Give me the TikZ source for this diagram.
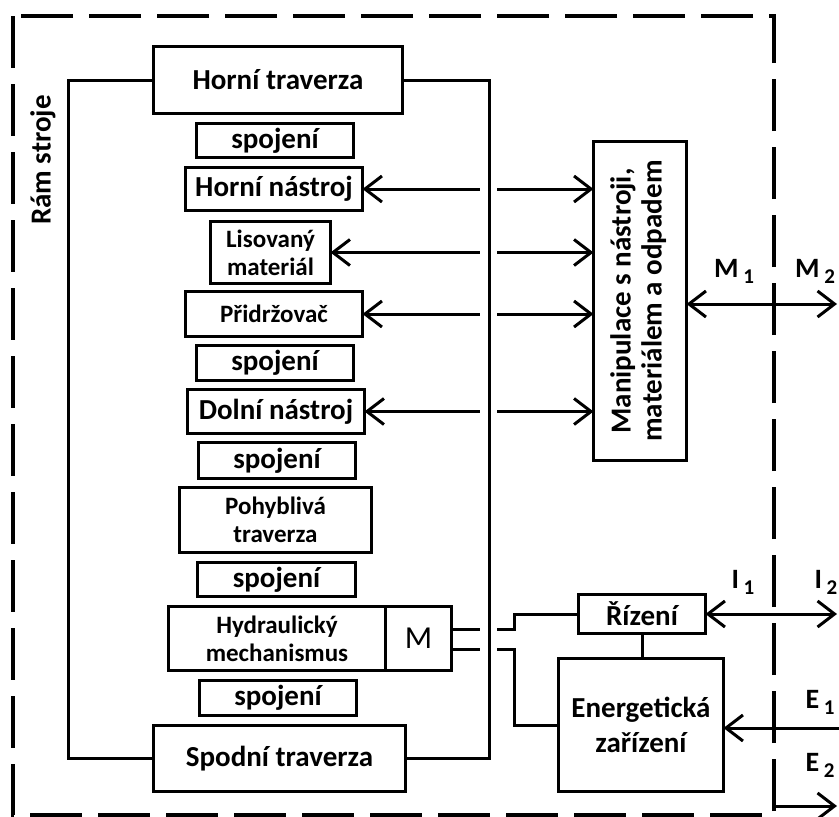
\documentclass[tikz,border=0pt]{standalone}
\usepackage{fontspec}
\setmainfont{Carlito}
\usepackage{graphicx}
\usetikzlibrary{arrows.meta}

\newcommand{\vstup}[2]{#1\,\raisebox{-6pt}{\fontsize{21}{21}\selectfont #2}}

\begin{document}
\begin{tikzpicture}[x=1pt,y=-1pt,line width=3pt,
    >={Straight Barb[length=17pt,width=26pt]},
    blok/.style={draw,line width=3.4pt,inner sep=0pt,outer sep=0pt,align=center,
        font=\bfseries\fontsize{29}{33}\selectfont},
    malyblok/.style={blok,font=\bfseries\fontsize{25}{28}\selectfont},
    popis/.style={inner sep=0pt,font=\bfseries\fontsize{28}{28}\selectfont}]

    \useasboundingbox (0,0) rectangle (839,817);

    % outer boundary of the machine
    \draw[line width=3.5pt,dash pattern=on 52pt off 16pt] (13,16) rectangle (774,815);

    % the column of parts
    \node[blok,minimum width=249pt,minimum height=67pt] (horniTrav) at (278,80) {Horní traverza};
    \node[blok,minimum width=157pt,minimum height=34pt] (spoj1) at (275,140.5) {spojení};
    \node[blok,minimum width=177pt,minimum height=43pt] (horniNas) at (274,189) {Horní nástroj};
    \node[malyblok,minimum width=120pt,minimum height=62pt] (lisMat) at (270.5,252.5) {Lisovaný\\materiál};
    \node[malyblok,minimum width=177pt,minimum height=45pt] (pridr) at (274,314) {Přidržovač};
    \node[blok,minimum width=157pt,minimum height=35pt] (spoj2) at (275,363) {spojení};
    \node[blok,minimum width=177pt,minimum height=44pt] (dolniNas) at (276,411.5) {Dolní nástroj};
    \node[blok,minimum width=157pt,minimum height=36pt] (spoj3) at (277,460.5) {spojení};
    \node[malyblok,minimum width=192pt,minimum height=65pt] (pohTrav) at (275.5,520) {Pohyblivá\\traverza};
    \node[blok,minimum width=158pt,minimum height=34pt] (spoj4) at (276.5,579.5) {spojení};
    \node[malyblok,minimum width=217pt,minimum height=64pt] (hydr) at (277,638.5) {Hydraulický\\mechanismus};
    \node[blok,anchor=west,minimum width=66pt,minimum height=64pt,font=\fontsize{32}{32}\selectfont] (motor) at (hydr.east) {M};
    \node[blok,minimum width=157pt,minimum height=35pt] (spoj5) at (278,698) {spojení};
    \node[blok,minimum width=252pt,minimum height=66pt] (spodniTrav) at (279.5,758.5) {Spodní traverza};

    % machine frame
    \node[popis,rotate=90,font=\bfseries\fontsize{29}{29}\selectfont] (ramStroje) at (43,160) {Rám stroje};
    \coordinate (ramL) at (68,0);
    \coordinate (ramP) at (489,0);
    \draw (horniTrav.west) -| (ramL |- spodniTrav.west) -- (spodniTrav.west);
    \draw (horniTrav.east) -| (ramP |- spodniTrav.east) -- (spodniTrav.east);

    % gap where lines cross the frame
    \coordinate (mezeraL) at (480,0);
    \coordinate (mezeraP) at (497,0);

    % handling
    \node[blok,minimum width=93pt,minimum height=319pt,font=\bfseries\fontsize{29}{31}\selectfont] (manip) at (640,301)
        {\rotatebox{90}{\begin{tabular}{@{}c@{}}Manipulace s nástroji,\\materiálem a odpadem\end{tabular}}};
    \foreach \n in {horniNas,lisMat,pridr,dolniNas}{
        \draw[<-] (\n.east) -- (\n.east -| mezeraL);
        \draw[->] (\n.east -| mezeraP) -- (\n.east -| manip.west);
    }
    \coordinate (mVen) at (837,304);
    \draw[<->] (manip.east |- mVen) -- (mVen);
    \node[popis] (m1) at (734,271) {\vstup{M}{1}};
    \node[popis] (m2) at (815,271) {\vstup{M}{2}};

    % control and energy
    \node[blok,minimum width=127pt,minimum height=39pt] (rizeni) at (642,614) {Řízení};
    \node[blok,minimum width=165pt,minimum height=133pt,font=\bfseries\fontsize{29}{35}\selectfont] (energ) at (641,725) {Energetická\\zařízení};
    \draw (rizeni.south) -- (rizeni.south |- energ.north);

    \coordinate (vedeni) at (514,0);
    \draw ([yshift=9.5pt]motor.east) -- ([yshift=9.5pt]motor.east -| mezeraL);
    \draw ([yshift=9.5pt]motor.east -| mezeraP) -| (vedeni |- rizeni.west) -- (rizeni.west);
    \draw ([yshift=-10.5pt]motor.east) -- ([yshift=-10.5pt]motor.east -| mezeraL);
    \draw ([yshift=-10.5pt]motor.east -| mezeraP) -| (vedeni |- energ.west) -- (energ.west);

    \coordinate (iVen) at (837,614);
    \draw[<->] (rizeni.east) -- (iVen);
    \node[popis] (i1) at (743,582) {\vstup{I}{1}};
    \node[popis] (i2) at (826,582) {\vstup{I}{2}};

    \coordinate (eVstup) at (839,728);
    \draw[<-] (energ.east |- eVstup) -- (eVstup);
    \node[popis] (e1) at (820,702) {\vstup{E}{1}};

    \coordinate (eOd) at (774,806);
    \coordinate (eVen) at (837,806);
    \draw[->] (eOd) -- (eVen);
    \node[popis] (e2) at (820,765) {\vstup{E}{2}};
\end{tikzpicture}
\end{document}
